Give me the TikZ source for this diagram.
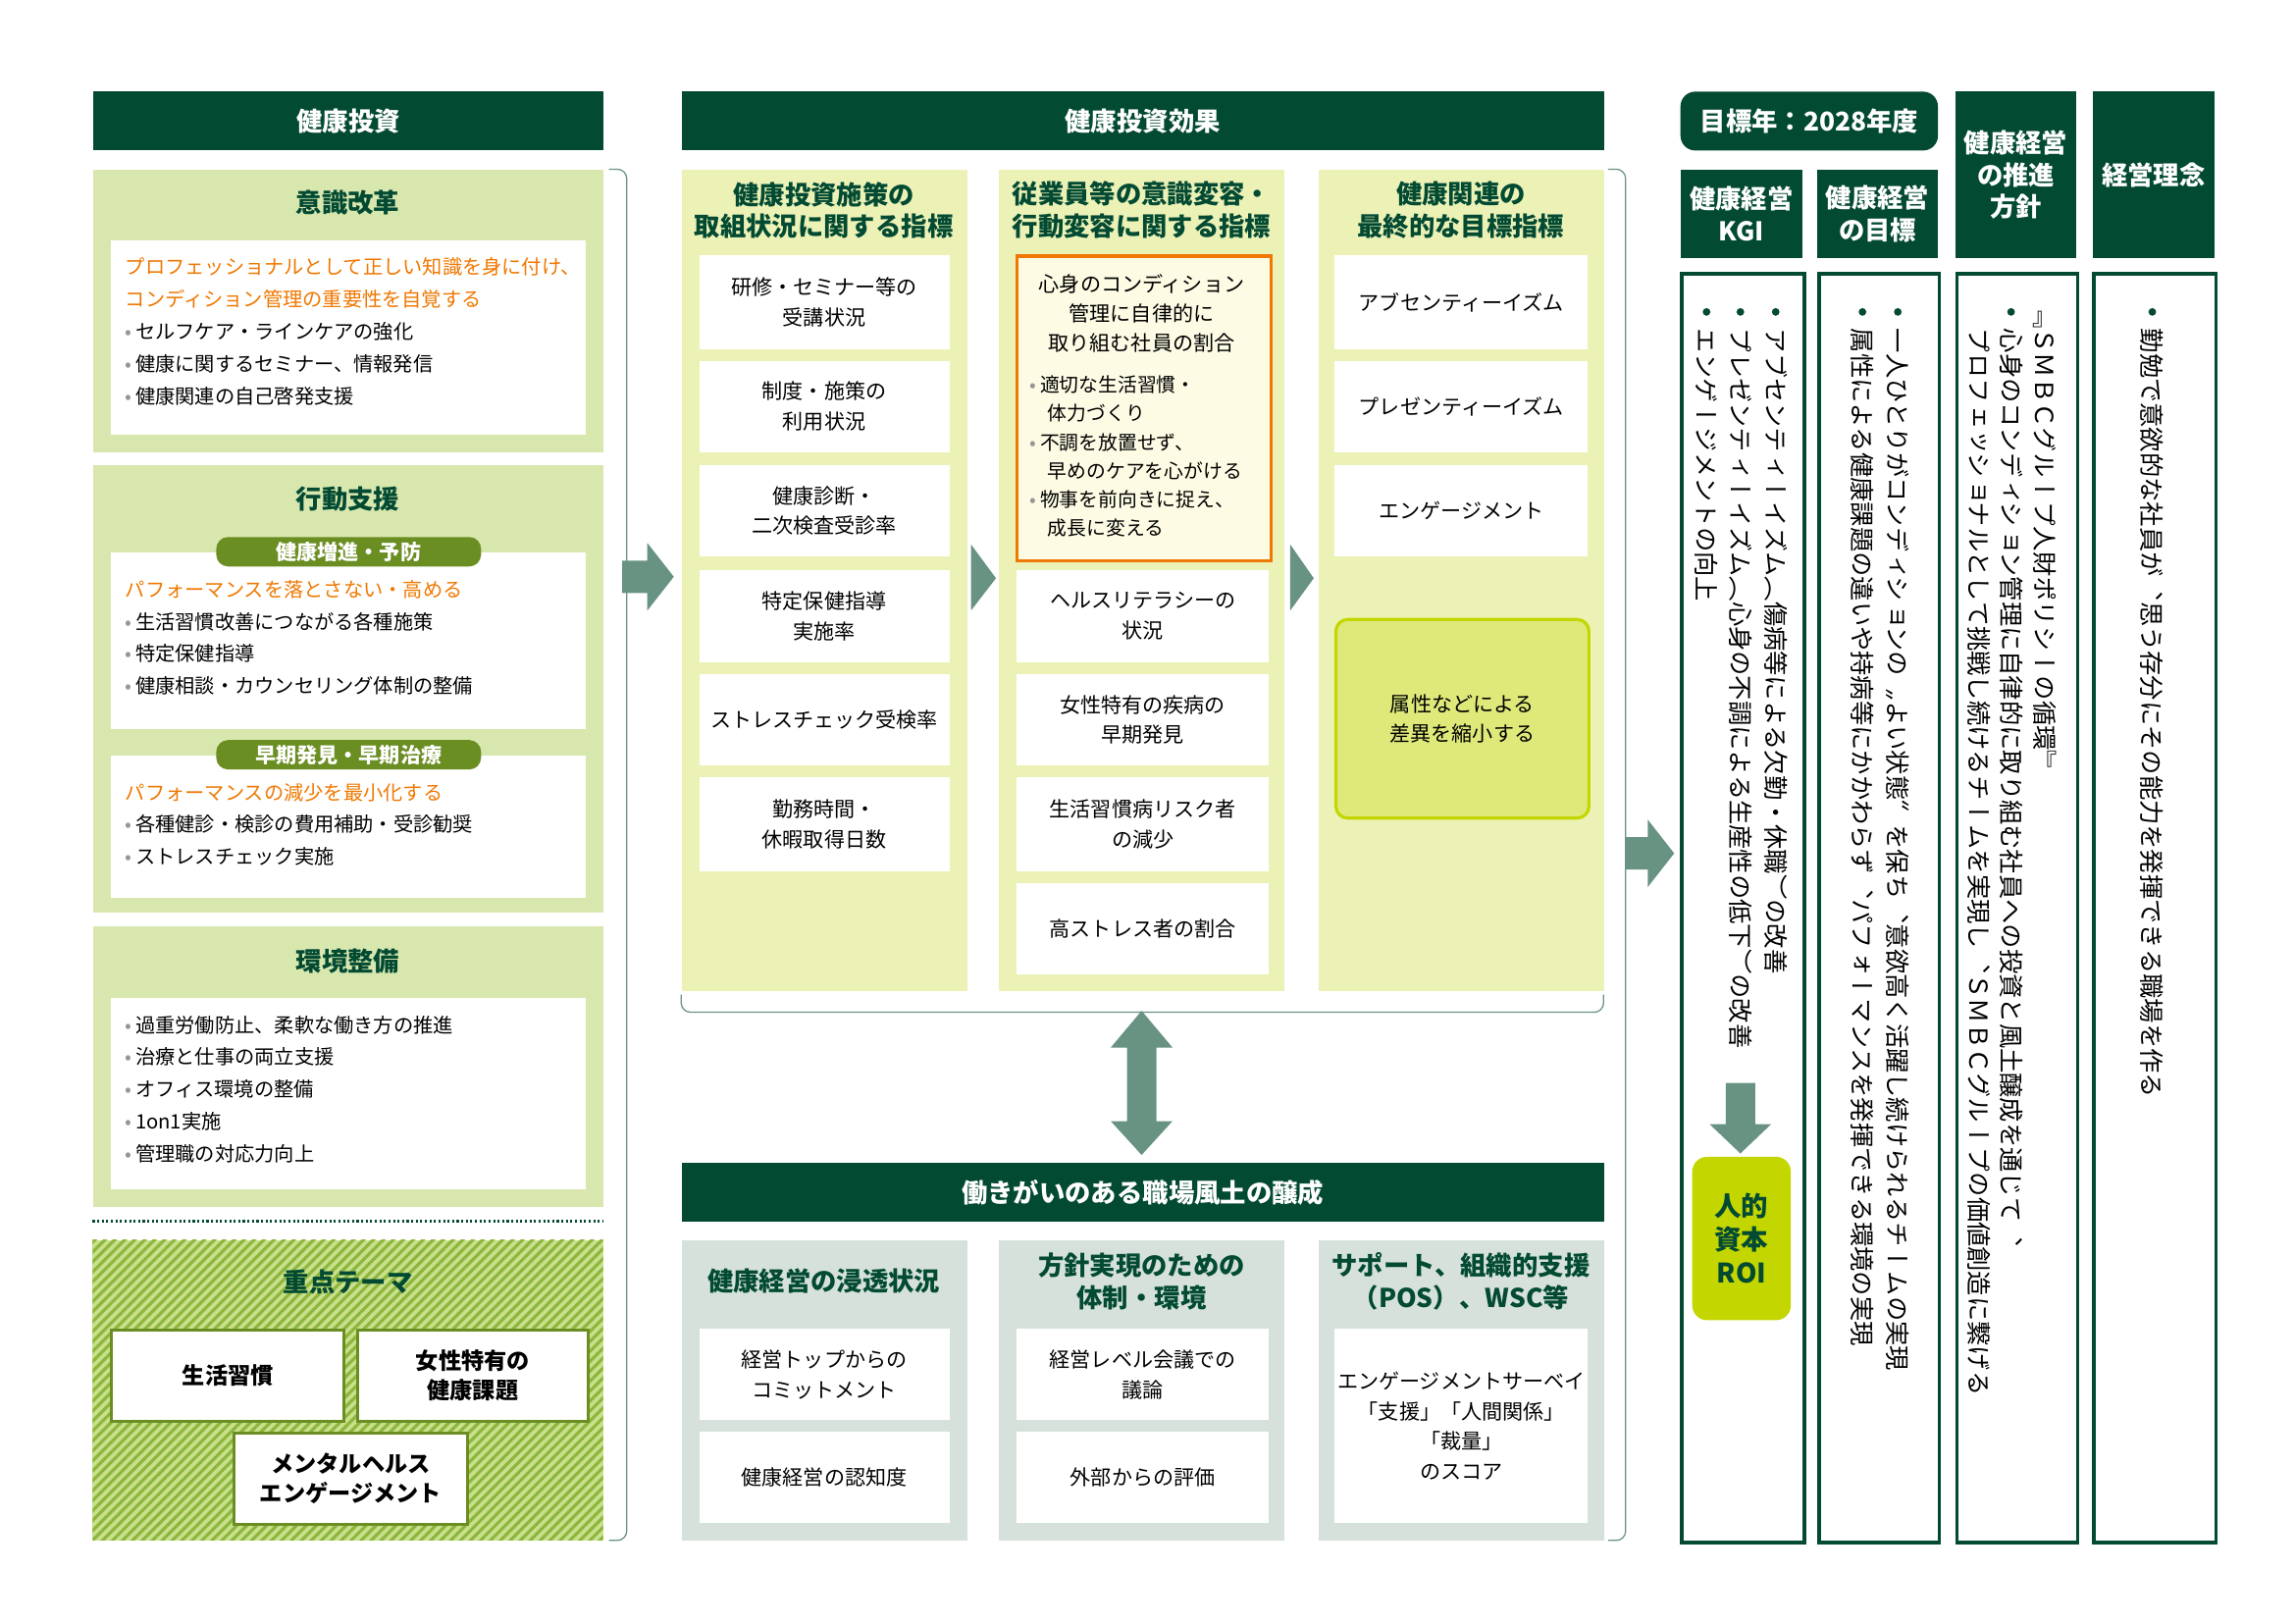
\documentclass[tikz,border=0pt]{standalone}
\usepackage{fontspec}
\setmainfont{Noto Sans CJK JP}
\newfontfamily\vfont{Noto Sans CJK JP}[Vertical=RotatedGlyphs,RawFeature=+vert]
\usetikzlibrary{patterns.meta}
\definecolor{dg}{RGB}{3,74,51}
\definecolor{lg}{RGB}{216,231,174}
\definecolor{ly}{RGB}{236,242,182}
\definecolor{gg}{RGB}{213,225,218}
\definecolor{arr}{RGB}{104,147,131}
\definecolor{org}{RGB}{240,120,0}
\definecolor{olv}{RGB}{107,142,35}
\definecolor{lime}{RGB}{196,214,0}
\definecolor{bgray}{RGB}{150,150,150}
\newcommand\bx[7]{\node[#1, anchor=north west, inner sep=0pt, minimum width={(#5-#3)*0.25mm}, minimum height={(#6-#4)*0.25mm}] (#2) at (#3,#4) {#7};}
\newcommand\bu{{\color{bgray}•}\,}
\newcommand\ot[1]{\textcolor{org}{#1}}
\tikzset{
 hdr/.style={fill=dg,text=white,font=\bfseries\fontsize{12.5}{15.6}\selectfont,align=center},
 lpan/.style={fill=lg},
 ypan/.style={fill=ly},
 gpan/.style={fill=gg},
 wbox/.style={fill=white,font=\fontsize{10}{14.5}\selectfont,align=center},
 ttl/.style={text=dg,font=\bfseries\fontsize{12.5}{15.6}\selectfont,align=center},
 ltxt/.style={anchor=north west,inner sep=0pt,align=left,font=\fontsize{9.6}{15.6}\selectfont},
 pill/.style={fill=olv,text=white,rounded corners=2mm,font=\bfseries\fontsize{10}{12}\selectfont,minimum width=45mm,minimum height=5mm,inner sep=0pt},
 theme/.style={fill=white,draw=olv,line width=1.3pt,font=\bfseries\fontsize{11}{14}\selectfont,align=center},
 brk/.style={draw=arr,line width=0.6pt,rounded corners=1.6mm},
 blk/.style={fill=arr},
 rbox/.style={fill=white,draw=dg,line width=1.8pt},
 vt/.style={rotate=-90,anchor=west,inner sep=0pt,font=\vfont\fontsize{12}{14}\selectfont},
 vbul/.style={circle,fill=dg,inner sep=0pt,minimum size=1.3mm},
}
\begin{document}
\begin{tikzpicture}[x=0.25mm,y=-0.25mm]
\useasboundingbox (0,0) rectangle (1560,1103.2);
% ---------------- left column
\bx{hdr}{hL}{63}{62}{410}{102}{健康投資}
\bx{lpan}{p1}{63}{115}{410}{307}{}
\node[ttl] (t1) at (236.5,138) {意識改革};
\bx{wbox}{w1}{75}{163}{398}{295}{}
\node[ltxt] (x1) at (85,175) {\ot{プロフェッショナルとして正しい知識を身に付け、}\\\ot{コンディション管理の重要性を自覚する}\\\bu セルフケア・ラインケアの強化\\\bu 健康に関するセミナー、情報発信\\\bu 健康関連の自己啓発支援};
\bx{lpan}{p2}{63}{316}{410}{620}{}
\node[ttl] (t2) at (236.5,339) {行動支援};
\bx{wbox}{w2}{75}{375}{398}{495}{}
\node[pill] (pl1) at (237,375) {健康増進・予防};
\node[ltxt] (x2) at (85,394) {\ot{パフォーマンスを落とさない・高める}\\\bu 生活習慣改善につながる各種施策\\\bu 特定保健指導\\\bu 健康相談・カウンセリング体制の整備};
\bx{wbox}{w3}{75}{513}{398}{610}{}
\node[pill] (pl2) at (237,513) {早期発見・早期治療};
\node[ltxt] (x3) at (85,532) {\ot{パフォーマンスの減少を最小化する}\\\bu 各種健診・検診の費用補助・受診勧奨\\\bu ストレスチェック実施};
\bx{lpan}{p3}{63}{629}{410}{820}{}
\node[ttl] (t3) at (236.5,653) {環境整備};
\bx{wbox}{w4}{75}{678}{398}{808}{}
\node[ltxt] (x4) at (85,690) {\bu 過重労働防止、柔軟な働き方の推進\\\bu 治療と仕事の両立支援\\\bu オフィス環境の整備\\\bu 1on1実施\\\bu 管理職の対応力向上};
\coordinate (d1) at (63,830); \coordinate (d2) at (410,830);
\draw[dg,line width=1.3pt,dash pattern=on 1pt off 1.2pt] (d1) -- (d2);
\fill[fill={rgb,255:red,200;green,224;blue,140}] (63,843) rectangle (410,1047);
\fill[pattern={Lines[angle=45,distance=3.4pt,line width=1.5pt]},pattern color={rgb,255:red,140;green,182;blue,60}] (63,843) rectangle (410,1047);
\node[ttl] (t4) at (236.5,871) {重点テーマ};
\bx{theme}{th1}{75}{903}{233}{965}{生活習慣}
\bx{theme}{th2}{242}{903}{399}{965}{女性特有の\\健康課題}
\bx{theme}{th3}{158}{973}{317}{1035}{メンタルヘルス\\エンゲージメント}
\draw[brk] (414,115) -- (426,115) -- (426,1047) -- (414,1047);
% arrow left->middle
\fill[blk] (423,381) -- (440,381) -- (440,369) -- (458,392) -- (440,415) -- (440,403) -- (423,403) -- cycle;
% ---------------- middle
\bx{hdr}{hM}{463}{62}{1090}{102}{健康投資効果}
\bx{ypan}{c1}{463}{115}{657}{673}{}
\bx{ypan}{c2}{679}{115}{873}{673}{}
\bx{ypan}{c3}{896}{115}{1090}{673}{}
\node[ttl] (ct1) at (560,143) {健康投資施策の\\取組状況に関する指標};
\node[ttl] (ct2) at (776,143) {従業員等の意識変容・\\行動変容に関する指標};
\node[ttl] (ct3) at (993,143) {健康関連の\\最終的な目標指標};
\bx{wbox}{a1}{475}{173}{645}{237}{研修・セミナー等の\\受講状況}
\bx{wbox}{a2}{475}{245}{645}{307}{制度・施策の\\利用状況}
\bx{wbox}{a3}{475}{316}{645}{378}{健康診断・\\二次検査受診率}
\bx{wbox}{a4}{475}{387}{645}{450}{特定保健指導\\実施率}
\bx{wbox}{a5}{475}{458}{645}{520}{ストレスチェック受検率}
\bx{wbox}{a6}{475}{528}{645}{592}{勤務時間・\\休暇取得日数}
\bx{fill={rgb,255:red,253;green,251;blue,228},draw=org,line width=1.6pt}{b0}{690}{173}{863}{380}{}
\node[font=\fontsize{10}{14.2}\selectfont,align=center,inner sep=0pt] (b0t) at (776,213) {心身のコンディション\\管理に自律的に\\取り組む社員の割合};
\node[ltxt,font=\fontsize{9.4}{13.9}\selectfont] (b0b) at (700,255) {\bu 適切な生活習慣・\\\hspace{0.9em}体力づくり\\\bu 不調を放置せず、\\\hspace{0.9em}早めのケアを心がける\\\bu 物事を前向きに捉え、\\\hspace{0.9em}成長に変える};
\bx{wbox}{b1}{691}{387}{862}{450}{ヘルスリテラシーの\\状況}
\bx{wbox}{b2}{691}{458}{862}{520}{女性特有の疾病の\\早期発見}
\bx{wbox}{b3}{691}{528}{862}{592}{生活習慣病リスク者\\の減少}
\bx{wbox}{b4}{691}{600}{862}{662}{高ストレス者の割合}
\bx{wbox}{g1}{907}{173}{1079}{237}{アブセンティーイズム}
\bx{wbox}{g2}{907}{245}{1079}{307}{プレゼンティーイズム}
\bx{wbox}{g3}{907}{316}{1079}{378}{エンゲージメント}
\bx{wbox,fill={rgb,255:red,222;green,233;blue,122},draw=lime,line width=1.5pt,rounded corners=2mm}{g4}{907}{420}{1079}{555}{属性などによる\\差異を縮小する}
\fill[blk] (660,370) -- (677,393) -- (660,415) -- cycle;
\fill[blk] (877,370) -- (893,393) -- (877,415) -- cycle;
\draw[brk] (463,676) -- (463,688) -- (1090,688) -- (1090,676);
\draw[brk] (1093,115) -- (1105,115) -- (1105,1047) -- (1093,1047);
\fill[blk] (776,687) -- (797,712) -- (786,712) -- (786,762) -- (797,762) -- (776,785) -- (755,762) -- (766,762) -- (766,712) -- (755,712) -- cycle;
\bx{hdr}{hW}{463}{790}{1090}{830}{働きがいのある職場風土の醸成}
\bx{gpan}{d1p}{463}{843}{657}{1047}{}
\bx{gpan}{d2p}{679}{843}{873}{1047}{}
\bx{gpan}{d3p}{896}{843}{1090}{1047}{}
\node[ttl] (dt1) at (560,871) {健康経営の浸透状況};
\node[ttl] (dt2) at (776,871) {方針実現のための\\体制・環境};
\node[ttl] (dt3) at (993,871) {サポート、組織的支援\\（POS）、WSC等};
\bx{wbox}{e1}{475}{903}{645}{965}{経営トップからの\\コミットメント}
\bx{wbox}{e2}{475}{973}{645}{1035}{健康経営の認知度}
\bx{wbox}{e3}{691}{903}{862}{965}{経営レベル会議での\\議論}
\bx{wbox}{e4}{691}{973}{862}{1035}{外部からの評価}
\bx{wbox}{e5}{907}{903}{1079}{1035}{エンゲージメントサーベイ\\「支援」「人間関係」\\「裁量」\\のスコア}
% big arrow
\fill[blk] (1105,569) -- (1120,569) -- (1120,557) -- (1138,580) -- (1120,603) -- (1120,591) -- (1105,591) -- cycle;
% ---------------- right
\bx{hdr,rounded corners=2.5mm}{hY}{1142}{62}{1317}{102}{目標年：2028年度}
\bx{hdr}{hK}{1142}{115}{1225}{175}{健康経営\\KGI}
\bx{hdr}{hG}{1235}{115}{1317}{175}{健康経営\\の目標}
\bx{hdr}{hP}{1329}{62}{1411}{175}{健康経営\\の推進\\方針}
\bx{hdr}{hR}{1422}{62}{1505}{175}{経営理念}
\bx{rbox}{rK}{1142}{185}{1225}{1047}{}
\bx{rbox}{rG}{1235}{185}{1317}{1047}{}
\bx{rbox}{rP}{1329}{185}{1411}{1047}{}
\bx{rbox}{rR}{1422}{185}{1505}{1047}{}
\node[vbul] (k1b) at (1207,212) {}; \node[vt] (k1) at (1207,223) {アブセンティーイズム（傷病等による欠勤・休職）の改善};
\node[vbul] (k2b) at (1183,212) {}; \node[vt] (k2) at (1183,223) {プレゼンティーイズム（心身の不調による生産性の低下）の改善};
\node[vbul] (k3b) at (1160,212) {}; \node[vt] (k3) at (1160,223) {エンゲージメントの向上};
\fill[blk] (1173,736) -- (1193,736) -- (1193,764) -- (1204,764) -- (1183,784) -- (1162,764) -- (1173,764) -- cycle;
\bx{fill=lime,rounded corners=2.5mm,text=dg,font=\bfseries\fontsize{13}{16}\selectfont,align=center}{roi}{1150}{786}{1217}{897}{人的\\資本\\ROI}
\node[vbul] (g1b) at (1290,212) {}; \node[vt] (gg1) at (1290,223) {一人ひとりがコンディションの〝よい状態〟を保ち、意欲高く活躍し続けられるチームの実現};
\node[vbul] (g2b) at (1266,212) {}; \node[vt] (gg2) at (1266,223) {属性による健康課題の違いや持病等にかかわらず、パフォーマンスを発揮できる環境の実現};
\node[vt] (p1t) at (1390,206) {『ＳＭＢＣグループ人財ポリシーの循環』};
\node[vbul] (p2b) at (1367,212) {}; \node[vt] (p2t) at (1367,223) {心身のコンディション管理に自律的に取り組む社員への投資と風土醸成を通じて、};
\node[vt] (p3t) at (1345,223) {プロフェッショナルとして挑戦し続けるチームを実現し、ＳＭＢＣグループの価値創造に繋げる};
\node[vbul] (r1b) at (1463,212) {}; \node[vt] (r1t) at (1463,223) {勤勉で意欲的な社員が、思う存分にその能力を発揮できる職場を作る};
\end{tikzpicture}
\end{document}
